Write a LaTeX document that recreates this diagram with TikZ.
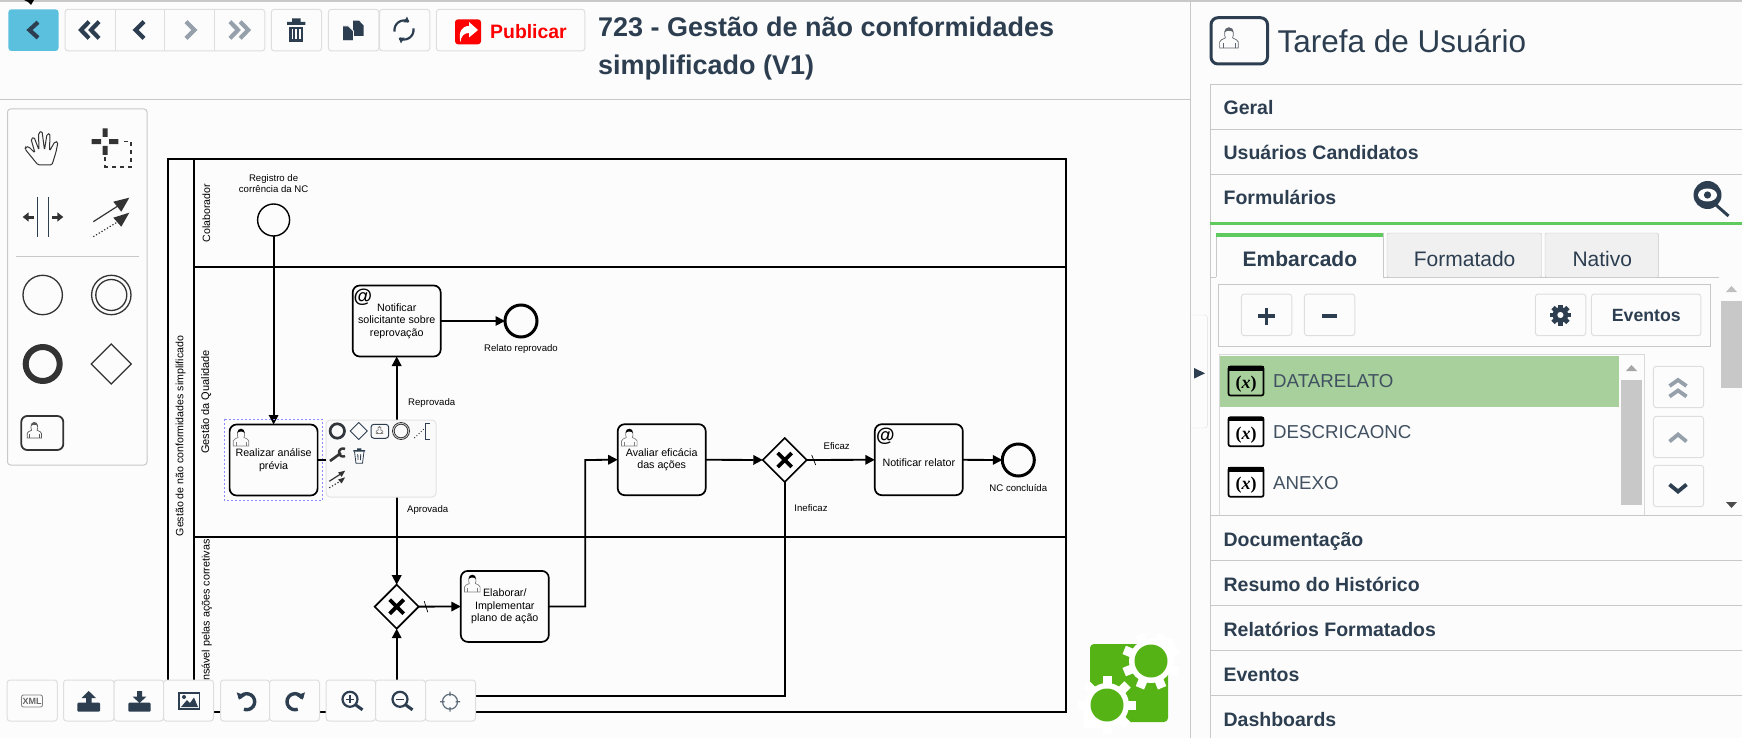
\documentclass[tikz,border=0pt]{standalone}
\usepackage{fontspec}
\setmainfont{Liberation Sans}
\newfontfamily\varfont{Liberation Serif}
\usetikzlibrary{arrows.meta,shapes.geometric}
\definecolor{bgcol}{HTML}{FCFCFC}
\definecolor{navy}{HTML}{2C3E50}
\definecolor{backblue}{HTML}{5BC0DE}
\definecolor{greyicon}{HTML}{95A0AB}
\definecolor{rulecol}{HTML}{C8C8C8}
\definecolor{btncol}{HTML}{DEDEDE}
\definecolor{okgreen}{HTML}{5FCB5F}
\definecolor{rowgreen}{HTML}{A7D09C}
\definecolor{logogreen}{HTML}{56B316}
\definecolor{inkcol}{HTML}{333333}
\newcommand{\fpx}[1]{\fontsize{#1}{#1}\selectfont}
\tikzset{
	lane/.style={draw=black,line width=2},
	taskbox/.style={draw=black,fill=bgcol,line width=1.7,rounded corners=7,minimum width=88,minimum height=71,inner sep=0,outer sep=0,align=center,font=\fontsize{10.7}{12.5}\selectfont,execute at begin node={\rule{0pt}{13pt}}},
	startev/.style={draw=black,fill=bgcol,circle,line width=1.4,minimum size=32,inner sep=0,outer sep=0},
	endev/.style={draw=black,fill=bgcol,circle,line width=3,minimum size=32,inner sep=0,outer sep=0},
	gateway/.style={draw=black,fill=bgcol,diamond,line width=1.7,minimum size=44,inner sep=0,outer sep=0,
		path picture={\draw[line width=3.8] (path picture bounding box.center) +(-7,-7) -- +(7,7) +(-7,7) -- +(7,-7);}},
	seqflow/.style={draw=black,line width=1.8,->},
	evlabel/.style={inner sep=0,align=center,font=\fontsize{9.6}{11}\selectfont},
	lanetitle/.style={inner sep=0,rotate=90,font=\fpx{11}},
	atsign/.style={inner sep=0,font=\bfseries\fpx{19}},
	btn/.style={draw=btncol,fill=bgcol,line width=1,rounded corners=3},
	rulepath/.style={draw=rulecol,line width=1},
	acclabel/.style={anchor=west,inner sep=0,text=navy,font=\bfseries\fpx{19.5},text height=14,text depth=0},
	tablabel/.style={inner sep=0,text=navy,font=\fpx{21},text height=15,text depth=0},
	vartext/.style={anchor=west,inner sep=0,text=navy!90,font=\fpx{18.7},text height=13.4,text depth=0},
}
\newcommand{\chevh}[5]{\draw[#5,line width=4.2] (#1+#3,#2-#4) -- (#1,#2) -- (#1+#3,#2+#4);}
\newcommand{\chevv}[4]{\draw[#4,line width=3.8] (#1-8.5,#2+#3) -- (#1,#2) -- (#1+8.5,#2+#3);}
\newcommand{\arcplot}[6]{\draw[#1] plot[smooth,samples=16,domain=#5:#6] ({#2+#4*cos(\x)},{#3+#4*sin(\x)});}
\newcommand{\usericon}[5]{\begin{scope}[shift={(#1,#2)},scale=#3]
	\draw[#4,line width=.7] (.5,18) -- (.5,13) .. controls (.5,11) and (3,11) .. (5.3,9.5) .. controls (4,7) and (4.4,1) .. (8.3,1) .. controls (12.2,1) and (12.6,7) .. (11.3,9.5) .. controls (13.6,11) and (16.1,11) .. (16.1,13) -- (16.1,18) -- cycle;
	\draw[#4,line width=.7] (3.2,18) -- (3.2,14) (13.4,18) -- (13.4,14);
	\fill[#5] (4.7,5) .. controls (4.3,-.5) and (12.3,-.5) .. (11.9,5) .. controls (10.5,3) and (6,3) .. (4.7,5) -- cycle;
	\end{scope}}
\newcommand{\connicon}[4]{\begin{scope}[shift={(#1,#2)},scale=#3]
	\draw[#4,line width=1.2] (0,24) -- (25,8);
	\fill[#4] (36,0) -- (20,4) -- (28,14) -- cycle;
	\draw[#4,line width=1.2,dotted] (0,39) -- (23,25);
	\fill[#4] (36,15) -- (20,20) -- (28,29) -- cycle;
	\end{scope}}
\newcommand{\gearcut}[3]{\fill[white] (#1,#2) circle (22);
	\foreach \a in {0,45,...,315} \fill[white,rotate around={\a+#3:(#1,#2)}] (#1-4.5,#2-29) rectangle (#1+4.5,#2-20);}
\newcommand{\lensicon}[2]{\draw[navy,line width=2.2] (#1,#2) circle (7.5);
	\draw[navy,line width=3] (#1+5.5,#2+5.5) -- (#1+12.5,#2+10.5);}
\begin{document}
\begin{tikzpicture}[>={Triangle[length=9.5pt,width=9.5pt]},x=1pt,y=-1pt]
	\useasboundingbox (0,0) rectangle (1742,738);
	\fill[bgcol] (0,0) rectangle (1742,738);
	\draw[rulepath,line width=1.6] (0,1) -- (1742,1);
	\draw[rulepath] (0,100) -- (1190.5,100);
	\draw[rulepath] (1190.5,1) -- (1190.5,738);
	\fill[black] (24,0) -- (34,0) -- (31,5) -- (28,2) -- cycle;
	% barra superior
	\fill[backblue,rounded corners=3] (8.4,9.3) rectangle (58.5,51);
	\foreach \xa/\xb in {65/264.8,271.3/321.5,328.4/378.9,379.6/429.8,436.3/584.8}
		\draw[btn] (\xa,9.3) rectangle (\xb,51);
	\foreach \xa in {115.6,164.6,214.3}
		\draw[draw=btncol] (\xa,9.3) -- (\xa,51);
	\chevh{29.5}{30}{8.5}{7.8}{navy}
	\chevh{81}{30}{8}{8.3}{navy}
	\chevh{91}{30}{8}{8.3}{navy}
	\chevh{135.5}{30}{8.5}{8.3}{navy}
	\chevh{194.5}{30}{-8.5}{8.3}{greyicon}
	\chevh{238}{30}{-8}{8.3}{greyicon}
	\chevh{248.2}{30}{-8}{8.3}{greyicon}
	\fill[navy] (287,22) rectangle (305.4,25) (292,18.3) rectangle (300.5,22.5);
	\fill[navy] (289,27) rectangle (303.4,41.7);
	\foreach \xa in {292.5,296.2,299.9}
		\fill[white] (\xa-.8,29.5) rectangle (\xa+.8,39.5);
	\fill[navy] (353,20.7) -- (359,20.7) -- (363.6,25.5) -- (363.6,36) -- (353,36) -- cycle;
	\draw[white,fill=navy,line width=.8] (342.5,26) -- (348.5,26) -- (353.5,31) -- (353.5,40.7) -- (342.5,40.7) -- cycle;
	\arcplot{navy,line width=2.2,-{Triangle[length=5pt,width=6.5pt]}}{404}{30}{9.5}{170}{305}
	\arcplot{navy,line width=2.2,-{Triangle[length=5pt,width=6.5pt]}}{404}{30}{9.5}{-10}{125}
	\fill[red,rounded corners=3] (455,19.3) rectangle (481,44.3);
	\fill[white] (460.5,42) .. controls (458,32) and (462,26) .. (469,26) -- (469,22) -- (478,30) -- (469,37.5) -- (469,33) .. controls (464,33) and (461,36) .. (460.5,42) -- cycle;
	\node[anchor=west,inner sep=0,text=red,font=\bfseries\fpx{19.4}] (publicar) at (490,32) {Publicar};
	\node[anchor=north west,inner sep=0,align=left,text=navy,font=\bfseries\fontsize{27}{38}\selectfont] (titulo) at (597.8,16.5) {723 - Gestão de não conformidades\\simplificado (V1)};
	% paleta
	\draw[rulepath,rounded corners=3] (7.5,109) rectangle (147,465);
	\draw[rulepath] (16,256) -- (139,256);
	\draw[inkcol,line width=1,rounded corners=1.5] (38,165) -- (25,149) -- (26,146.5) -- (29,147) -- (35,153) -- (31,139) -- (34,137) -- (39,150) -- (38.5,133) -- (42,131) -- (44.5,150) -- (47,134) -- (50,133.5) -- (49.5,151) -- (55,141.5) -- (58,142) -- (56,152) -- (52,165) -- cycle;
	\fill[inkcol] (91.7,139.2) rectangle (101,144.2) (109,139.2) rectangle (118.3,144.2) (102.5,128.3) rectangle (107.5,137) (102.5,146) rectangle (107.5,155);
	\draw[inkcol,line width=1.4,dash pattern=on 4pt off 4pt] (124,141.5) -- (131,141.5) -- (131,167) -- (105,167) -- (105,157);
	\draw[navy,line width=1] (37,196.7) -- (37,236.7) (48,196.7) -- (48,236.7);
	\draw[inkcol,line width=3,-{Triangle[length=6pt,width=9pt]}] (33.5,217) -- (22.7,217);
	\draw[inkcol,line width=3,-{Triangle[length=6pt,width=9pt]}] (52,217) -- (63.3,217);
	\connicon{93.3}{197.7}{1}{inkcol}
	\draw[inkcol,line width=1.3] (42.7,295) circle (19.7) (111.3,295) circle (19.7) (111.3,295) circle (15.5);
	\draw[inkcol,line width=6] (42.7,364) circle (17);
	\draw[inkcol,line width=1.3] (111.3,344) -- (131.3,364) -- (111.3,384) -- (91.3,364) -- cycle;
	\draw[inkcol,line width=1.8,rounded corners=6] (21.3,416) rectangle (63.3,450);
	\usericon{26.7}{421.5}{.92}{gray!70!black}{gray!70!black}
	% raias
	\draw[lane] (167.5,159) rectangle (1066,712);
	\draw[lane] (194,159) -- (194,712);
	\draw[lane] (194,267) -- (1066,267);
	\draw[lane] (194,536.5) -- (1066,536.5);
	\node[lanetitle,font=\fpx{10.6}] (pool) at (180.7,436) {Gestão de não conformidades simplificado};
	\node[lanetitle,font=\fpx{10.6}] (lanea) at (206.3,213) {Colaborador};
	\node[lanetitle] (laneb) at (206.3,402) {Gestão da Qualidade};
	\node[lanetitle,anchor=east,font=\fpx{10.8}] (lanec) at (206.8,539) {Responsável pelas ações corretivas};
	% elementos
	\node[startev] (inicio) at (273.6,220) {};
	\node[evlabel] (lbinicio) at (273.6,183.5) {Registro de\\corrência da NC};
	\node[taskbox] (analise) at (273.6,460) {Realizar análise\\prévia};
	\node[taskbox] (notifsol) at (396.7,321) {Notificar\\solicitante sobre\\reprovação};
	\node[endev] (fimrep) at (521,321) {};
	\node[evlabel] (lbfimrep) at (521,349.5) {Relato reprovado};
	\node[gateway] (gwa) at (396.7,606.7) {};
	\node[taskbox] (plano) at (504.8,606.4) {Elaborar/\\Implementar\\plano de ação};
	\node[taskbox] (eficacia) at (661.7,459.7) {Avaliar eficácia\\das ações};
	\node[gateway] (gwb) at (784.7,460) {};
	\node[taskbox] (notifrel) at (918.8,459.7) {Notificar relator};
	\node[endev] (fimnc) at (1018.3,460) {};
	\node[evlabel] (lbfimnc) at (1018.3,487.7) {NC concluída};
	\node[atsign] (ata) at (363,297) {@};
	\node[atsign] (atb) at (885.5,436) {@};
	\usericon{232.7}{428}{1}{gray}{black}
	\usericon{621}{428}{1}{gray}{black}
	\usericon{464}{574}{1}{gray}{black}
	\coordinate (volta) at (784.7,695.7);
	\coordinate (desvio) at (585.3,460);
	\draw[seqflow] (inicio) -- (analise);
	\draw[seqflow] (analise.east) -| (notifsol.south);
	\draw[seqflow] (analise.east) -| (gwa.north);
	\draw[seqflow] (notifsol) -- (fimrep);
	\draw[seqflow] (gwa) -- (plano);
	\draw[seqflow] (plano.east) -| (desvio) -- (eficacia.west);
	\draw[seqflow] (eficacia) -- (gwb);
	\draw[seqflow] (gwb) -- (notifrel);
	\draw[seqflow] (notifrel) -- (fimnc);
	\draw[seqflow] (gwb.south) -- (volta) -| (gwa.south);
	\draw[line width=.7] (gwa.east) ++(5.5,-5.5) -- ++(3.6,11);
	\draw[line width=.7] (gwb.east) ++(5,-5) -- ++(4,10);
	\node[evlabel] (lbreprov) at (431.7,402.7) {Reprovada};
	\node[evlabel] (lbaprov) at (427.7,509.7) {Aprovada};
	\node[evlabel] (lbeficaz) at (836.7,445.7) {Eficaz};
	\node[evlabel] (lbineficaz) at (811,507.7) {Ineficaz};
	% selecao e menu de contexto
	\draw[blue!45,line width=.8,dash pattern=on 2pt off 2pt] (224,419) rectangle (322.7,500);
	\draw[draw=gray!22,fill=gray!4,line width=1,rounded corners=4] (326,420) rectangle (436,497);
	\draw[inkcol!70!navy,line width=2.7] (337.3,431) circle (7.2);
	\draw[navy,line width=.8] (358.7,422.5) -- (367.2,431) -- (358.7,439.5) -- (350.2,431) -- cycle;
	\draw[navy,line width=1,rounded corners=3] (371,424.3) rectangle (388.7,438.3);
	\usericon{376}{426}{.42}{gray}{gray}
	\draw[inkcol,line width=.8] (401,431) circle (8.5) (401,431) circle (6.8);
	\draw[inkcol,line width=1,dotted] (414.3,438) -- (425,428);
	\draw[navy,line width=1] (430,423.3) -- (425.5,423.3) -- (425.5,439.3) -- (430,439.3);
	\draw[inkcol,line width=2.6] (330,461) -- (341,453);
	\arcplot{inkcol,line width=2.4}{343}{452.5}{4}{60}{300}
	\fill[navy] (353.3,450) rectangle (365,451.5) (357,448.3) rectangle (361.3,450);
	\draw[navy,line width=.8] (354.5,451.5) -- (356,463.3) -- (362.5,463.3) -- (364,451.5) (357.8,454) -- (358,460) (360.7,454) -- (360.5,460);
	\connicon{329.3}{470.7}{.44}{inkcol}
	\draw[line width=1.8] (analise.east) -- (326,460);
	% barra inferior
	\foreach \xa/\xb in {7/57.3,63.5/114,114/163.5,163.5/213.5,220.5/269.5,269.5/319.5,326/375.5,375.5/425.5,425.5/475.5}
		\draw[btn] (\xa,680) rectangle (\xb,721);
	\node[draw=gray,rounded corners=2,line width=.8,inner sep=.8,minimum width=21,minimum height=12,text=gray!80!black,font=\bfseries\fpx{9}] (xmlbtn) at (32,701) {XML};
	\fill[navy,rounded corners=1] (77.3,702.7) rectangle (100,711.7);
	\fill[navy] (88.7,691) -- (96,698) -- (91.5,698) -- (91.5,705) -- (86,705) -- (86,698) -- (81.5,698) -- cycle;
	\fill[navy,rounded corners=1] (128.3,702.7) rectangle (150.7,711.7);
	\fill[navy] (139.5,703) -- (132.5,696.5) -- (137,696.5) -- (137,691) -- (142,691) -- (142,696.5) -- (146.5,696.5) -- cycle;
	\draw[navy,line width=1.5] (179,693) rectangle (199.5,709);
	\fill[navy] (181,707) -- (187,700) -- (190,703) -- (194,697.5) -- (198,707) -- cycle (184,697) circle (2);
	\arcplot{navy,line width=3.4,-{Triangle[length=6pt,width=9pt]}}{246.7}{701.7}{8}{110}{-165}
	\arcplot{navy,line width=3.4,-{Triangle[length=6pt,width=9pt]}}{295}{701.7}{8}{70}{345}
	\lensicon{350}{699.3}
	\draw[navy,line width=1.6] (346,699.3) -- (354,699.3) (350,695.3) -- (350,703.3);
	\lensicon{400}{699.3}
	\draw[navy,line width=1.6] (396,699.3) -- (404,699.3);
	\draw[navy!75,line width=1.2] (450,701.7) circle (7.5) (440,701.7) -- (444.5,701.7) (455.5,701.7) -- (460,701.7) (450,691.7) -- (450,696.2) (450,707.2) -- (450,711.7);
	% logotipo
	\fill[logogreen,rounded corners=4] (1090,644) rectangle (1168,722);
	\gearcut{1151}{661}{22.5}
	\gearcut{1107}{705}{0}
	\fill[white] (1151,638) rectangle (1174,661) (1084,705) rectangle (1107,728);
	\fill[logogreen] (1151,661) circle (16.5) (1107,705) circle (16.5);
	% painel direito
	\draw[navy,line width=3,rounded corners=7] (1211,17.7) rectangle (1267.5,64);
	\usericon{1219}{26.5}{1.2}{gray!60!navy}{gray!60!navy}
	\node[anchor=base west,inner sep=0,text=navy,font=\fpx{31.5}] (painel) at (1277.3,52.7) {Tarefa de Usuário};
	\draw[rulepath] (1210.4,84.3) -- (1742,84.3) (1210.4,129.3) -- (1742,129.3) (1210.4,174.3) -- (1742,174.3);
	\draw[rulepath] (1210.4,84.3) -- (1210.4,738);
	\draw[rulepath] (1210.4,515) -- (1742,515) (1210.4,560.7) -- (1742,560.7) (1210.4,605.3) -- (1742,605.3) (1210.4,650.3) -- (1742,650.3) (1210.4,695.3) -- (1742,695.3);
	\draw[okgreen,line width=3] (1210.4,223.3) -- (1742,223.3);
	\foreach \ly/\ltxt [count=\i] in {107.7/Geral,152.7/Usuários Candidatos,197.7/Formulários,539.3/Documentação,584/Resumo do Histórico,629/Relatórios Formatados,674/Eventos,719/Dashboards}
		\node[acclabel] (acc\i) at (1223.4,\ly) {\ltxt};
	\fill[navy] (1707.5,195) circle (14);
	\fill[white] (1707.5,195) ellipse (9.5 and 6.5);
	\fill[navy] (1707.5,195) circle (3.6);
	\draw[navy,line width=3] (1716,205) -- (1728.5,216);
	\draw[rulepath] (1210.4,277.3) -- (1216.4,277.3) (1383.3,277.3) -- (1719,277.3);
	\draw[rulepath] (1216.4,277.3) -- (1216.4,233) -- (1383.3,233) -- (1383.3,277.3);
	\fill[okgreen] (1216.4,233) rectangle (1383.3,237);
	\foreach \xa/\xb in {1387/1541.7,1545/1658.6}
		\draw[draw=rulecol,fill=gray!12,rounded corners=2] (\xa,277.3) -- (\xa,233) -- (\xb,233) -- (\xb,277.3) -- cycle;
	\node[tablabel,font=\bfseries\fpx{21}] (tabemb) at (1299.9,259) {Embarcado};
	\node[tablabel] (tabfor) at (1464.6,259) {Formatado};
	\node[tablabel] (tabnat) at (1602.3,259) {Nativo};
	\draw[rulepath] (1218.9,284.3) rectangle (1710.8,346.7);
	\foreach \xa/\xb in {1241.4/1291.8,1304.4/1354.8,1535.4/1585.8,1591.4/1700.9}
		\draw[btn] (\xa,294) rectangle (\xb,335.7);
	\draw[navy,line width=3.6] (1258,316) -- (1275,316) (1266.4,307.5) -- (1266.4,324.5);
	\draw[navy,line width=3.4] (1321.5,316) -- (1337,316);
	\foreach \a in {0,45,...,315}
		\fill[navy,rotate around={\a:(1560.4,315)}] (1558,304.5) rectangle (1562.8,309);
	\fill[navy,even odd rule] (1560.4,315) circle (7.8) (1560.4,315) circle (3.2);
	\node[inner sep=0,text=navy,font=\bfseries\fpx{17.7}] (btneventos) at (1646.3,315) {Eventos};
	\draw[draw=rulecol!70] (1644.6,515) -- (1644.6,354.3) -- (1218.9,354.3) -- (1218.9,515);
	\fill[rowgreen] (1220,356) rectangle (1619.2,407);
	\foreach \vy/\vtxt/\vfill [count=\i] in {381/DATARELATO/rowgreen,431.7/DESCRICAONC/white,482.3/ANEXO/white}{
		\draw[black,fill=\vfill,line width=1.7,rounded corners=2] (1228.5,\vy-14.5) rectangle (1263.5,\vy+14.5);
		\fill[black] (1228,\vy-15) rectangle (1264,\vy-10.5);
		\node[inner sep=0,font=\varfont\fpx{18}] (varx\i) at (1246,\vy+3) {\textbf{(\textit{x})}};
		\node[vartext] (var\i) at (1273,\vy) {\vtxt};
	}
	\fill[rulecol] (1621,380) rectangle (1642,505);
	\fill[gray!70] (1631.5,365) -- (1637,371) -- (1626,371) -- cycle;
	\foreach \ya/\yb in {366.3/407.7,416.3/457.7,465.3/506.7}
		\draw[btn] (1653.4,\ya) rectangle (1703.7,\yb);
	\chevv{1678}{380}{6}{greyicon}
	\chevv{1678}{390.5}{6}{greyicon}
	\chevv{1678}{434.5}{7}{greyicon}
	\chevv{1678}{491.5}{-7}{navy}
	\fill[rulecol] (1721,301) rectangle (1742,387.7);
	\fill[gray!50] (1731.5,286) -- (1737,292) -- (1726,292) -- cycle;
	\fill[black!70] (1731.5,508) -- (1737,502) -- (1726,502) -- cycle;
	\draw[draw=btncol,rounded corners=3] (1190.5,315) -- (1207.6,315) -- (1207.6,428) -- (1190.5,428);
	\fill[navy] (1194,368) -- (1205,373.3) -- (1194,378.6) -- cycle;
\end{tikzpicture}
\end{document}
